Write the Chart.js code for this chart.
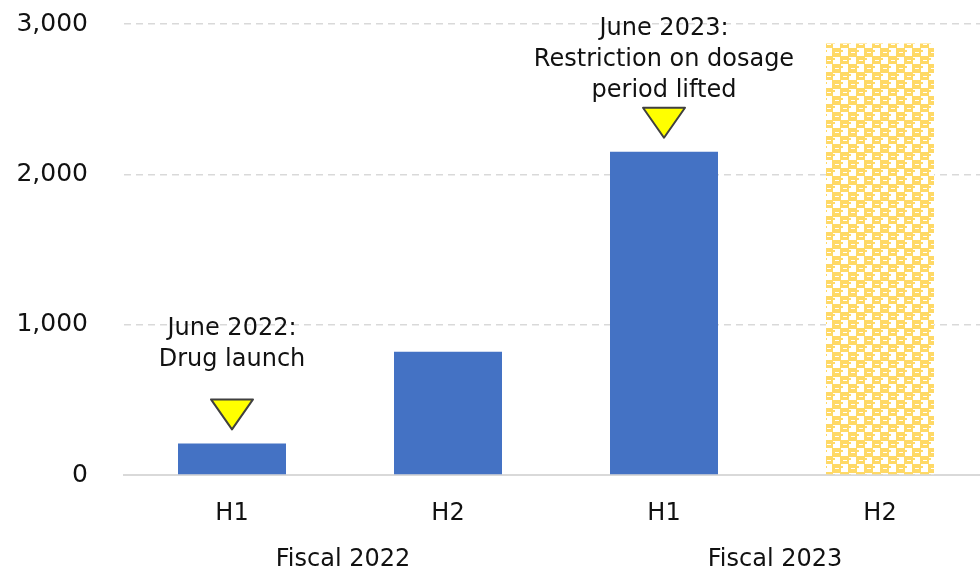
<!DOCTYPE html>
<html lang="en">

<head>
    <meta charset="UTF-8">
    <title>Sales by half year</title>
    <script src="https://cdn.jsdelivr.net/npm/chart.js"></script>
    <style>
        html, body {
            margin: 0;
            padding: 0;
            background: #ffffff;
            overflow: hidden;
        }

        .chart-container {
            position: relative;
            width: 990px;
            height: 572px;
        }
    </style>
</head>

<body>
    <div class="chart-container">
        <canvas id="salesChart"></canvas>
    </div>
</body>
<script>

    const halves = ['H1', 'H2', 'H1', 'H2'];
    const sales = [210, 820, 2150, 2870];
    const forecast = [false, false, false, true];
    const fiscalYears = ['Fiscal 2022', 'Fiscal 2023'];
    const yTicks = [0, 1000, 2000, 3000];

    // event notes sit above the bar they point at
    const noteBars = [0, 2];
    const noteLines = [
        ['June 2022:', 'Drug launch'],
        ['June 2023:', 'Restriction on dosage', 'period lifted']
    ];
    const noteGap = [40, 17];

    const FONT = "'DejaVu Sans', Verdana, sans-serif";
    const TEXT = '#111111';
    const BLUE = '#4472C4';
    const GOLD = '#FFD966';

    // checker tile for the forecast bar
    function makePattern() {
        const tile = document.createElement('canvas');
        tile.width = 16;
        tile.height = 16;
        const t = tile.getContext('2d');
        t.fillStyle = '#ffffff';
        t.fillRect(0, 0, 16, 16);
        t.fillStyle = GOLD;
        t.fillRect(0, 0, 9, 9);
        t.fillRect(8, 8, 8, 8);
        t.fillRect(0, 8, 1, 8);
        // little nubs poking into the white squares
        t.fillRect(9, 2, 2, 2);
        t.fillRect(1, 10, 2, 2);
        t.fillStyle = '#ffffff';
        t.fillRect(3, 4, 4, 1);
        t.fillRect(11, 12, 4, 1);
        return document.createElement('canvas').getContext('2d').createPattern(tile, 'repeat');
    }

    const pattern = makePattern();

    const notesPlugin = {
        id: 'notes',
        afterDatasetsDraw(chart) {
            const c = chart.ctx;
            const meta = chart.getDatasetMeta(0);
            c.save();
            noteBars.forEach((idx, n) => {
                const bar = meta.data[idx];
                const tipY = bar.y - 14;
                const topY = tipY - 30;
                c.beginPath();
                c.moveTo(bar.x - 21, topY);
                c.lineTo(bar.x + 21, topY);
                c.lineTo(bar.x, tipY);
                c.closePath();
                c.fillStyle = '#FFFF00';
                c.fill();
                c.lineWidth = 2;
                c.lineJoin = 'round';
                c.strokeStyle = '#404040';
                c.stroke();

                const lines = noteLines[n];
                c.font = '24px ' + FONT;
                c.fillStyle = TEXT;
                c.textAlign = 'center';
                c.textBaseline = 'middle';
                const lastY = topY - noteGap[n];
                lines.forEach((line, i) => {
                    c.fillText(line, bar.x, lastY - (lines.length - 1 - i) * 31);
                });
            });
            c.restore();
        }
    };

    const fiscalPlugin = {
        id: 'fiscal',
        afterDraw(chart) {
            const c = chart.ctx;
            const x = chart.scales.x;
            c.save();
            c.font = '24px ' + FONT;
            c.fillStyle = TEXT;
            c.textAlign = 'center';
            c.textBaseline = 'middle';
            fiscalYears.forEach((label, i) => {
                const mid = (x.getPixelForValue(i * 2) + x.getPixelForValue(i * 2 + 1)) / 2;
                c.fillText(label, mid + 3, 560);
            });
            c.restore();
        }
    };

    const data = {
        labels: halves,
        datasets: [{
            data: sales,
            backgroundColor: forecast.map(f => f ? pattern : BLUE),
            borderWidth: 0,
            barPercentage: 0.5,
            categoryPercentage: 1
        }]
    };

    const config = {
        type: 'bar',
        data: data,
        options: {
            animation: false,
            responsive: true,
            maintainAspectRatio: false,
            events: [],
            layout: {
                padding: { top: 24, right: 2, left: 0, bottom: 0 }
            },
            plugins: {
                legend: { display: false },
                tooltip: { enabled: false }
            },
            scales: {
                x: {
                    grid: { display: false, drawTicks: false },
                    border: { display: true, color: '#d9d9d9', width: 2 },
                    ticks: {
                        padding: 24,
                        color: TEXT,
                        font: { family: FONT, size: 24 }
                    },
                    afterFit(scale) {
                        scale.height = 97;
                    }
                },
                y: {
                    min: 0,
                    max: 3000,
                    afterBuildTicks(scale) {
                        scale.ticks = yTicks.map(v => ({ value: v }));
                    },
                    grid: {
                        drawTicks: false,
                        color: '#d9d9d9',
                        lineWidth: 1.5
                    },
                    border: { display: false, dash: [7, 5] },
                    ticks: {
                        padding: 36,
                        color: TEXT,
                        font: { family: FONT, size: 25 },
                        callback: v => v.toLocaleString('en-US')
                    },
                    afterFit(scale) {
                        scale.width = 124;
                        scale.paddingTop = 0;
                        scale.paddingBottom = 0;
                    }
                }
            }
        },
        plugins: [notesPlugin, fiscalPlugin]
    };

    const ctx = document.getElementById('salesChart');
    const chart = new Chart(ctx, config);

</script>

</html>
